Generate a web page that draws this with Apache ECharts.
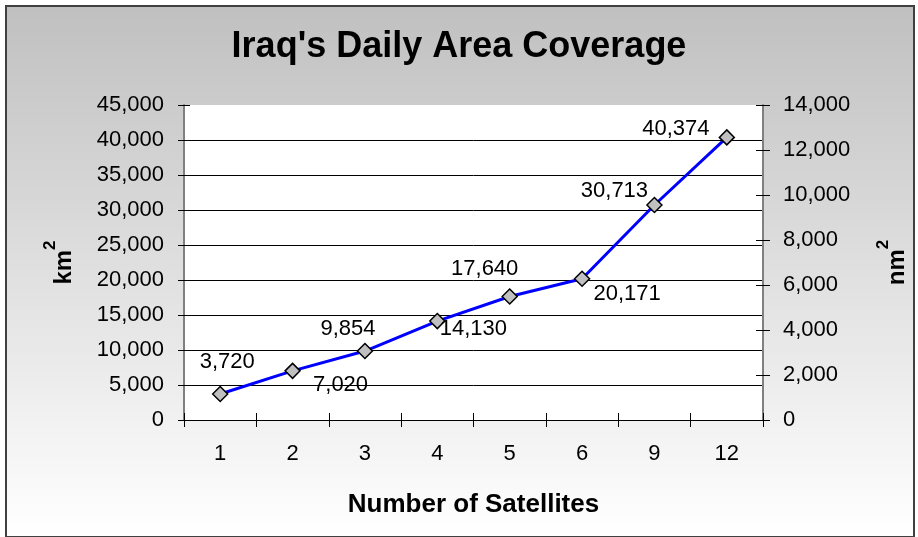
<!DOCTYPE html>
<html>
<head>
<meta charset="utf-8">
<script src="https://cdn.jsdelivr.net/npm/echarts@6/dist/echarts.min.js"></script>
<style>
  html, body { margin: 0; padding: 0; background: #fff; }
  #wrap { position: relative; width: 918px; height: 537px; }
  #frame {
    position: absolute; left: 5px; top: 5px; width: 906px; height: 529px;
    border: 2px solid #404040;
    background: linear-gradient(to bottom, #c0c0c0 0%, #ffffff 100%);
  }
  #chart { position: absolute; left: 0; top: 0; width: 918px; height: 537px; }
</style>
</head>
<body>
<div id="wrap">
  <div id="frame"></div>
  <div id="chart"></div>
</div>
<script>
  var categories = ['1', '2', '3', '4', '5', '6', '9', '12'];
  var coverage = [3720, 7020, 9854, 14130, 17640, 20171, 30713, 40374];
  var kmAxis = { min: 0, max: 45000, interval: 5000 };
  var nmAxis = { min: 0, max: 14000, interval: 2000 };
  // label nudges (px) off each marker, like the hand placed excel labels
  var labelOffsets = [[7, -32], [48, 14], [-17, -22], [36, 8], [-25, -28], [45, 15], [-40, -14], [-51, -8]];

  var FONT = '"Liberation Sans", Arial, sans-serif';

  function fmt(v) {
    return String(v).replace(/\B(?=(\d{3})+(?!\d))/g, ',');
  }

  var seriesData = coverage.map(function (v, i) {
    return {
      value: v,
      label: { offset: labelOffsets[i] }
    };
  });

  var chart = echarts.init(document.getElementById('chart'));

  var tickLabel = { color: '#000', fontSize: 22, fontFamily: FONT };
  var unitName = function (u) {
    return {
      name: '{u|' + u + '}{s|2}',
      nameLocation: 'middle',
      nameRotate: 90,
      nameTextStyle: {
        rich: {
          u: { fontSize: 24, fontWeight: 'bold', fontFamily: FONT, color: '#000', lineHeight: 34, verticalAlign: 'bottom' },
          s: { fontSize: 17, fontWeight: 'bold', fontFamily: FONT, color: '#000', lineHeight: 17, verticalAlign: 'top' }
        }
      }
    };
  };

  var option = {
    backgroundColor: 'transparent',
    animation: false,
    title: {
      text: "Iraq's Daily Area Coverage",
      left: 'center',
      top: 29,
      padding: 0,
      textStyle: { fontSize: 36, fontWeight: 'bold', fontFamily: FONT, color: '#000' }
    },
    grid: {
      left: 184,
      right: 155,
      top: 105,
      bottom: 117,
      show: true,
      backgroundColor: '#fff',
      borderWidth: 0
    },
    xAxis: [{
      type: 'category',
      data: categories,
      boundaryGap: true,
      name: 'Number of Satellites',
      nameLocation: 'middle',
      nameGap: 72,
      nameTextStyle: { fontSize: 26, fontWeight: 'bold', fontFamily: FONT, color: '#000' },
      axisLine: { show: true, lineStyle: { color: '#000', width: 1 } },
      axisTick: { show: true, length: 7, lineStyle: { color: '#000' } },
      axisLabel: { margin: 23, color: '#000', fontSize: 22, fontFamily: FONT },
      splitLine: { show: false }
    }, {
      // inner half of the crossing ticks
      type: 'category',
      data: categories,
      position: 'bottom',
      axisLine: { show: false },
      axisTick: { show: true, inside: true, length: 7, lineStyle: { color: '#000' } },
      axisLabel: { show: false },
      splitLine: { show: false }
    }],
    yAxis: [Object.assign({
      type: 'value',
      position: 'left',
      min: kmAxis.min,
      max: kmAxis.max,
      interval: kmAxis.interval,
      nameGap: 108,
      axisLine: { show: true, lineStyle: { color: '#808080', width: 2 } },
      axisTick: { show: true, length: 6, lineStyle: { color: '#000' } },
      axisLabel: Object.assign({ margin: 20, formatter: fmt }, tickLabel),
      splitLine: { show: true, showMaxLine: false, lineStyle: { color: '#000', width: 1 } }
    }, unitName('km')), Object.assign({
      type: 'value',
      position: 'right',
      min: nmAxis.min,
      max: nmAxis.max,
      interval: nmAxis.interval,
      nameGap: 112,
      axisLine: { show: true, lineStyle: { color: '#808080', width: 2 } },
      axisTick: { show: true, length: 7, lineStyle: { color: '#000' } },
      axisLabel: Object.assign({ margin: 20, formatter: fmt }, tickLabel),
      splitLine: { show: false }
    }, unitName('nm')), {
      type: 'value',
      position: 'right',
      min: nmAxis.min,
      max: nmAxis.max,
      interval: nmAxis.interval,
      axisLine: { show: false },
      axisTick: { show: true, inside: true, length: 7, lineStyle: { color: '#000' } },
      axisLabel: { show: false },
      splitLine: { show: false }
    }, {
      type: 'value',
      position: 'left',
      min: kmAxis.min,
      max: kmAxis.max,
      interval: kmAxis.interval,
      axisLine: { show: false },
      axisTick: { show: true, inside: true, length: 6, lineStyle: { color: '#000' } },
      axisLabel: { show: false },
      splitLine: { show: false }
    }],
    series: [{
      name: 'coverage',
      type: 'line',
      xAxisIndex: 0,
      yAxisIndex: 0,
      data: seriesData,
      symbol: 'diamond',
      symbolSize: 15,
      lineStyle: { color: '#0000ff', width: 3 },
      itemStyle: { color: '#c0c0c0', borderColor: '#000', borderWidth: 1.5 },
      label: {
        show: true,
        position: 'inside',
        color: '#000',
        fontSize: 22,
        fontFamily: FONT,
        formatter: function (p) { return fmt(p.value); }
      },
      z: 5
    }]
  };

  chart.setOption(option);
</script>
</body>
</html>
